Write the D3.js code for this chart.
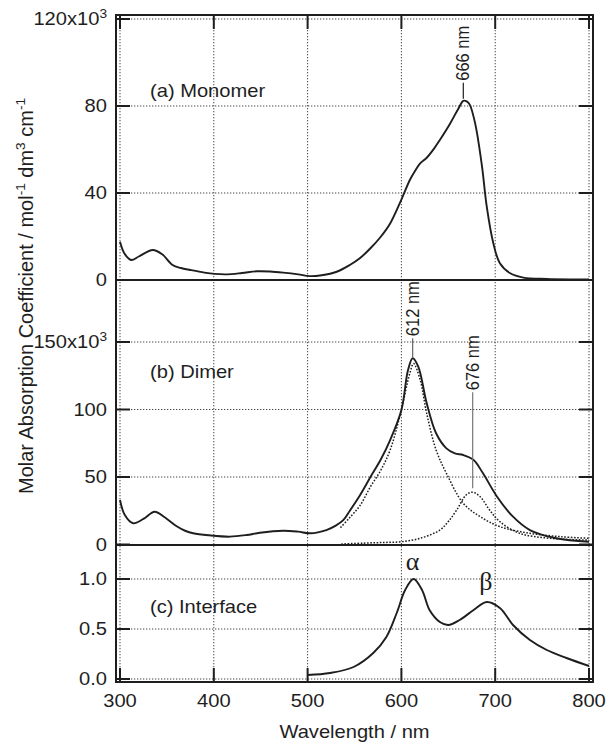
<!DOCTYPE html>
<html>
<head>
<meta charset="utf-8">
<script src="https://cdn.jsdelivr.net/npm/d3@7"></script>
<style>
body { margin: 0; background: #fff; }
</style>
</head>
<body>
<script>
'use strict';

// (a) monomer spectrum, 10^3 mol-1 dm3 cm-1
const monoWl = [300, 305, 312, 320, 335, 345, 356, 365, 375, 390, 401, 414, 430, 446, 460, 474, 490, 502, 515, 531, 545, 556, 567, 578, 588, 600, 609, 615, 620, 627, 635, 641, 652, 661, 666, 670, 673, 677, 680, 686, 691, 698, 705, 716, 730, 755, 780, 800];
const monoEps = [17.6, 12, 9.2, 10.8, 13.8, 11.8, 6.9, 5.5, 4.6, 3.4, 2.8, 2.6, 3.2, 4.0, 3.9, 3.4, 2.6, 1.8, 2.2, 3.8, 6.9, 10.1, 14.6, 19.9, 26, 37, 46, 50.5, 53.6, 56.2, 60.5, 64.4, 72, 79, 82.4, 82, 80.5, 75, 69, 52, 33.7, 16.9, 7.7, 3.1, 1.1, 0.5, 0.3, 0.3];

// (b) dimer spectrum and its two fitted bands
const dimerWl = [300, 305, 314, 325, 337, 348, 360, 370, 378, 395, 417, 435, 449, 474, 490, 503, 520, 530, 538, 545, 556, 567, 578, 588, 600, 607, 612, 618, 627, 637, 648, 657, 666, 677, 687, 702, 719, 737, 765, 800];
const dimerEps = [33, 22, 15.7, 19, 24.3, 20, 13.7, 10, 8.3, 6.8, 5.8, 7, 8.7, 10.2, 9.5, 8.3, 10.7, 14, 18, 25, 36.7, 50, 63, 77.4, 99.6, 129, 138, 131.7, 104.6, 82.4, 71.2, 67.5, 66.3, 62.6, 52.7, 35.4, 20.6, 10.7, 4.6, 2];
const band612Wl = [535, 545, 556, 567, 578, 588, 599, 609, 613, 620, 627, 637, 648, 666, 684, 705, 737, 770, 800];
const band612Eps = [12.5, 20, 29, 42.8, 55, 70, 97, 126.8, 134, 121.9, 97, 70, 52.7, 30.5, 20.6, 13.2, 8.3, 5.8, 4.6];
const band676Wl = [536, 560, 580, 599, 620, 641, 650, 659, 669, 676, 684, 694, 705, 726, 758, 800];
const band676Eps = [0.4, 1.0, 1.5, 2.0, 4.6, 10.7, 17, 25.6, 36.7, 38.7, 35.4, 25.6, 16.9, 8.3, 4.6, 3.3];

// (c) interface spectrum (normalised)
const ifaceWl = [500, 524, 549, 570, 584, 595, 604, 613, 622, 630, 641, 650, 662, 677, 691, 705, 719, 737, 755, 776, 800];
const ifaceVal = [0.04, 0.06, 0.12, 0.26, 0.42, 0.66, 0.89, 1.0, 0.89, 0.69, 0.57, 0.54, 0.59, 0.69, 0.77, 0.71, 0.54, 0.39, 0.29, 0.21, 0.13];

const xTicks = [300, 400, 500, 600, 700, 800];
const aTicks = [0, 40, 80, 120];
const bTicks = [0, 50, 100, 150];
const cTicks = [0, 0.5, 1.0];
const aTickLabels = ["0", "40", "80", "120x10"];
const bTickLabels = ["0", "50", "100", "150x10"];
const cTickLabels = ["0.0", "0.5", "1.0"];

const W = 614, H = 744;
const frameL = 116, frameR = 593, frameT = 15, frameB = 682;
const splitAB = 280, splitBC = 545;
const tickLen = 14;
const fs = 17.5;
const sx = 1.15;   // glyphs in the figure are wider than Helvetica
const ink = "#1e1e1e";

const svg = d3.select("body").append("svg")
    .attr("width", W).attr("height", H)
    .style("font-family", "'Liberation Sans', Arial, Helvetica, sans-serif");

const x = d3.scaleLinear().domain([300, 800]).range([120, 589]);
const yA = d3.scaleLinear().domain([0, 120]).range([280, 19]);
const yB = d3.scaleLinear().domain([0, 150]).range([544.5, 342]);
const yC = d3.scaleLinear().domain([0, 1]).range([679, 579]);

const panels = [
    {y: yA, ticks: aTicks, labels: aTickLabels},
    {y: yB, ticks: bTicks, labels: bTickLabels},
    {y: yC, ticks: cTicks, labels: cTickLabels}
];

// text with optional stretch, rotation and superscripts
function addText(x0, y0, parts, opts) {
    opts = opts || {};
    const size = opts.size || fs;
    const stretch = opts.stretch || "";
    const tf = `translate(${x0},${y0})` + (opts.rotate ? " rotate(-90)" : "") + (stretch ? " " + stretch : "");
    const t = svg.append("text")
        .attr("transform", tf)
        .attr("text-anchor", opts.anchor || "start")
        .attr("fill", ink)
        .style("font-size", size + "px");
    if (opts.family) t.style("font-family", opts.family);
    let up = false;
    for (const p of parts) {
        if (typeof p === "string") {
            t.append("tspan").attr("dy", up ? 0.4 * size : 0).text(p);
            up = false;
        } else {
            t.append("tspan").attr("dy", -0.4 * size)
                .style("font-size", (0.68 * size) + "px").text(p.sup);
            up = true;
        }
    }
    return t;
}
const wide = `scale(${sx},1)`;

// grid
const grid = svg.append("g")
    .attr("stroke", "#444").attr("stroke-width", 1)
    .attr("stroke-dasharray", "1.3,1.7").attr("fill", "none");

grid.selectAll("line.v").data(xTicks).join("line")
    .attr("class", "v")
    .attr("x1", d => x(d)).attr("x2", d => x(d))
    .attr("y1", frameT).attr("y2", frameB);

for (const p of panels) {
    grid.append("g").selectAll("line").data(p.ticks).join("line")
        .attr("x1", frameL).attr("x2", frameR)
        .attr("y1", d => p.y(d)).attr("y2", d => p.y(d));
}

// ticks
const tk = svg.append("g").attr("stroke", ink).attr("stroke-width", 2);
for (const p of panels) {
    tk.append("g").selectAll("line").data(p.ticks).join("line")
        .attr("x1", frameL).attr("x2", frameL + tickLen)
        .attr("y1", d => p.y(d)).attr("y2", d => p.y(d));
    tk.append("g").selectAll("line").data(p.ticks).join("line")
        .attr("x1", frameR).attr("x2", frameR - tickLen)
        .attr("y1", d => p.y(d)).attr("y2", d => p.y(d));
}
tk.append("g").selectAll("line").data(xTicks).join("line")
    .attr("x1", d => x(d)).attr("x2", d => x(d))
    .attr("y1", frameT).attr("y2", frameT + tickLen);
tk.append("g").selectAll("line").data(xTicks).join("line")
    .attr("x1", d => x(d)).attr("x2", d => x(d))
    .attr("y1", frameB).attr("y2", frameB - tickLen);

// frame
svg.append("rect")
    .attr("x", frameL).attr("y", frameT)
    .attr("width", frameR - frameL).attr("height", frameB - frameT)
    .attr("fill", "none").attr("stroke", ink).attr("stroke-width", 2);
svg.append("g").attr("stroke", ink).attr("stroke-width", 2)
    .selectAll("line").data([splitAB, splitBC]).join("line")
    .attr("x1", frameL).attr("x2", frameR)
    .attr("y1", d => d).attr("y2", d => d);

// curves
function drawCurve(wl, vals, yScale, dashed) {
    const line = d3.line()
        .x(d => x(d[0])).y(d => yScale(d[1]))
        .curve(d3.curveCatmullRom.alpha(0.5));
    svg.append("path")
        .datum(d3.zip(wl, vals))
        .attr("d", line)
        .attr("fill", "none")
        .attr("stroke", ink)
        .attr("stroke-width", dashed ? 1.5 : 1.9)
        .attr("stroke-dasharray", dashed ? "1.6,1.6" : null)
        .attr("stroke-linejoin", "round");
}

drawCurve(monoWl, monoEps, yA, false);
drawCurve(band612Wl, band612Eps, yB, true);
drawCurve(band676Wl, band676Eps, yB, true);
drawCurve(dimerWl, dimerEps, yB, false);
drawCurve(ifaceWl, ifaceVal, yC, false);

// tick labels
for (const p of panels) {
    p.ticks.forEach((v, i) => {
        const parts = p.labels[i].endsWith("x10") ? [p.labels[i], {sup: "3"}] : [p.labels[i]];
        addText(107, p.y(v) + 6.3, parts, {anchor: "end", stretch: wide});
    });
}
xTicks.forEach(v => addText(x(v), 707, [String(v)], {anchor: "middle", stretch: wide}));

// axis titles
addText(354.5, 738, ["Wavelength / nm"], {anchor: "middle", stretch: wide});
addText(33, 296, ["Molar Absorption Coefficient / mol", {sup: "-1"}, " dm", {sup: "3"}, " cm", {sup: "-1"}],
    {anchor: "middle", rotate: true, size: 20});

// panel names
addText(150, 97, ["(a) Monomer"], {stretch: wide});
addText(150, 378, ["(b) Dimer"], {stretch: wide});
addText(150, 613, ["(c) Interface"], {stretch: wide});

// peak markers
function peakMark(wl, yScale, val, gap, len, color) {
    const y0 = yScale(val) - gap;
    svg.append("line")
        .attr("x1", x(wl)).attr("x2", x(wl))
        .attr("y1", y0).attr("y2", y0 - len)
        .attr("stroke", color).attr("stroke-width", 1.2);
    addText(x(wl) + 6, y0 - len - 2, [wl + " nm"], {rotate: true, size: 16.5, stretch: `scale(1,${sx})`});
}
peakMark(666, yA, 82.4, 2, 16, ink);
peakMark(612, yB, 138, 1, 19, "#666");
peakMark(676, yB, 38.7, 4, 96, "#777");

const serif = "'Liberation Serif', 'Times New Roman', serif";
addText(x(612), 570, ["\u03b1"], {anchor: "middle", size: 26, family: serif});
addText(x(690), 590, ["\u03b2"], {anchor: "middle", size: 26, family: serif});
</script>
</body>
</html>
